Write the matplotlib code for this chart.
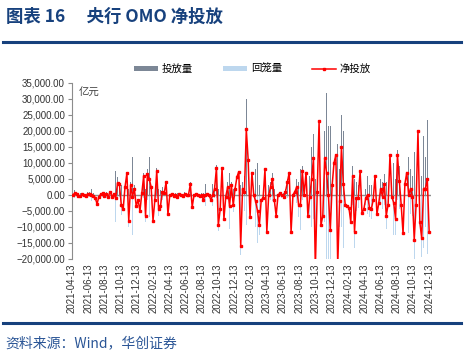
import matplotlib
matplotlib.use('Agg')
import matplotlib.pyplot as plt
import matplotlib.dates as mdates
import matplotlib.ticker as mticker
import pandas as pd
import numpy as np

plt.rcParams['font.family'] = ['Noto Sans CJK SC', 'DejaVu Sans']

# 周度数据 (亿元)
weeks = pd.date_range('2021-04-16', periods=192, freq='7D')

net = [0, 500, 300, -200, -400, 200, 0, -300, 400, 300,
       100, -200, -800, -2800, -500, 200, 500, -300, 200, -500,
       1000, -500, 300, -1000, 3800, 3300, -3200, -4500, 2500, 6800,
       -8000, 3000, -500, 2000, -3500, -1500, -5000, 500, 6000, -6500,
       6500, 5000, 2500, -8000, -1500, 7500, -4500, -3500, 1000, 500,
       4000, -6000, 0, 200, -300, 0, -500, 200, 0, -200,
       300, 0, 0, 3300, -3700, 0, 200, 0, -200, 0,
       -1500, 0, 200, 0, -1500, 0, 2000, 8500, -9400, -4500,
       8500, -7500, -500, 2500, -3500, 3000, -3200, 2000, 5700, 7300,
       -15800, 2000, 1000, 20500, 11000, -7000, 7000, 0, -2000, -5000,
       -9500, -1500, -1000, 8000, -11500, 0, 2500, 5000, -1500, -6500,
       0, 500, 0, -500, 1000, 4000, 7000, -11500, 0, 1000,
       2500, -3000, -3000, 7500, 0, 7000, -6500, -500, 5000, 11500,
       -23000, 1000, 23000, -9500, -6500, 11500, 7000, 0, -11000, 3000,
       10000, 12500, -22000, -2000, 15000, 3500, -3000, -3500, -4000, -8500,
       6000, -11500, -1000, -1000, 7500, -5500, -4500, -1000, 0, -4000,
       -4500, -1500, 6000, -6000, -2500, 2000, -500, 3500, -6500, -3000,
       12500, -500, -2500, -7500, 12500, 4500, -3000, -12000, 3500, 7000,
       0, 2000, -500, -14000, -3000, 20000, -8500, -13500, 2000, 2000,
       5000, -11500]

inject = [500, 1500, 500, 300, 500, 700, 500, 500, 900, 800,
          2000, 500, 500, 1500, 500, 700, 1000, 500, 1000, 6500,
          2000, 1500, 1000, 7500, 5500, 4000, 3000, 5500, 4000, 10000,
          2000, 4000, 12000, 3000, 4000, 2500, 5500, 2000, 7000, 2000,
          8000, 12000, 9000, 4000, 3000, 8500, 2000, 1500, 2500, 1500,
          5000, 1000, 3000, 500, 500, 500, 500, 700, 500, 300,
          800, 500, 500, 4000, 1000, 500, 700, 500, 300, 500,
          500, 3500, 700, 500, 500, 3500, 3000, 9500, 2000, 1500,
          10000, 2000, 3000, 4000, 7000, 4000, 2000, 3500, 9000, 8500,
          3000, 4000, 6000, 30000, 15000, 3000, 18000, 17000, 8000, 10000,
          3000, 5000, 4000, 11000, 2000, 3000, 4000, 7000, 2000, 1500,
          1000, 1500, 1000, 500, 2000, 5000, 10000, 2000, 3000, 4000,
          5000, 4000, 8000, 9000, 14000, 10000, 13500, 6000, 15000, 19000,
          5000, 35000, 35000, 12000, 10000, 20000, 32000, 21500, 21500, 8000,
          27000, 14000, 16000, 8000, 25000, 20000, 6000, 5000, 8000, 14000,
          9000, 5000, 4000, 3000, 8000, 2000, 3000, 2000, 6000, 3000,
          3000, 2000, 7000, 7000, 3000, 5000, 4000, 6500, 4000, 9500,
          13500, 6000, 10000, 5000, 14000, 9000, 18000, 6000, 18000, 10000,
          12000, 8000, 6000, 13500, 9000, 22000, 18000, 6000, 18500, 12000,
          23500, 3500]

withdraw = [500, 1000, 200, 500, 900, 500, 500, 800, 500, 500,
            1900, 700, 1300, 4300, 1000, 500, 500, 800, 800, 7000,
            1000, 2000, 700, 8500, 1700, 700, 6200, 10000, 1500, 3200,
            10000, 1000, 12500, 1000, 7500, 4000, 10500, 1500, 1000, 8500,
            1500, 7000, 6500, 12000, 4500, 1000, 6500, 5000, 1500, 1000,
            1000, 7000, 3000, 300, 800, 500, 1000, 500, 500, 500,
            500, 500, 500, 700, 4700, 500, 500, 500, 500, 500,
            2000, 3500, 500, 500, 2000, 3500, 1000, 1000, 11400, 6000,
            1500, 9500, 3500, 1500, 10500, 1000, 5200, 1500, 3300, 1200,
            18800, 2000, 5000, 9500, 4000, 10000, 11000, 17000, 10000, 15000,
            12500, 6500, 5000, 3000, 13500, 3000, 1500, 2000, 3500, 8000,
            1000, 1000, 1000, 1000, 1000, 1000, 3000, 13500, 3000, 3000,
            2500, 7000, 11000, 1500, 14000, 3000, 20000, 6500, 10000, 7500,
            28000, 34000, 12000, 21500, 16500, 8500, 25000, 21500, 32500, 5000,
            17000, 1500, 38000, 10000, 10000, 16500, 9000, 8500, 12000, 22500,
            3000, 16500, 5000, 4000, 500, 7500, 7500, 3000, 6000, 7000,
            7500, 3500, 1000, 13000, 5500, 3000, 4500, 3000, 10500, 12500,
            1000, 6500, 12500, 12500, 1500, 4500, 21000, 18000, 14500, 3000,
            12000, 6000, 6500, 27500, 12000, 2000, 26500, 19500, 16500, 10000,
            18500, 15000]

title_color = '#17417d'

fig = plt.figure(figsize=(4.68, 3.6), dpi=100)
ax = fig.add_axes([0.1538, 0.2806, 0.7672, 0.4889])

b1 = ax.bar(weeks, inject, width=2.0, color='#44546a', alpha=0.7, label='投放量', zorder=2)
b2 = ax.bar(weeks, -np.array(withdraw), width=2.0, color='#bdd7ee', label='回笼量', zorder=1)
ax.axhline(0, color='#8c8c8c', lw=1, zorder=3)
l1, = ax.plot(weeks, net, color='#ff0000', lw=1.1, marker='s', ms=1.6, label='净投放', zorder=4)

ax.set_ylim(-20000, 35000)
ax.set_yticks(np.arange(-20000, 35001, 5000))
ax.yaxis.set_major_formatter(mticker.StrMethodFormatter('{x:,.2f}'))
ax.set_xlim(pd.Timestamp('2021-04-13'), pd.Timestamp('2024-12-20'))
ax.xaxis.set_major_locator(mdates.MonthLocator(bymonth=[2, 4, 6, 8, 10, 12], bymonthday=13))
ax.xaxis.set_major_formatter(mdates.DateFormatter('%Y-%m-%d'))

for s in ['top', 'right', 'bottom']:
    ax.spines[s].set_visible(False)
ax.spines['left'].set_color('#8c8c8c')
ax.tick_params(axis='y', length=3, color='#8c8c8c', labelsize=7, pad=2, labelcolor='#333333')
ax.tick_params(axis='x', length=0, labelsize=7, pad=3, labelcolor='#333333', rotation=90)
for lab in ax.get_xticklabels() + ax.get_yticklabels():
    lab.set_family(['Liberation Sans', 'DejaVu Sans'])

ax.text(0.02, 0.97, '亿元', transform=ax.transAxes, fontsize=7.5, color='#404040', va='top', ha='left')

fig.legend(handles=[b1, b2, l1], loc='center', bbox_to_anchor=(0.54, 0.808), ncol=3, frameon=False,
           fontsize=7.5, handlelength=2.3, handleheight=0.5, columnspacing=2.9, handletextpad=0.35)

# 标题与页脚
fig.text(0.012, 0.952, '图表 16　 央行 OMO 净投放', fontsize=12.5, fontweight='bold', color=title_color, va='center')
fig.add_artist(plt.Line2D([0.006, 0.985], [0.883, 0.883], color=title_color, lw=2.2))
fig.add_artist(plt.Line2D([0.006, 0.985], [0.103, 0.103], color=title_color, lw=2.2))
fig.text(0.012, 0.047, '资料来源：Wind，华创证券', fontsize=10, color='#2a5596', va='center')

fig.savefig('out.png', dpi=100)
